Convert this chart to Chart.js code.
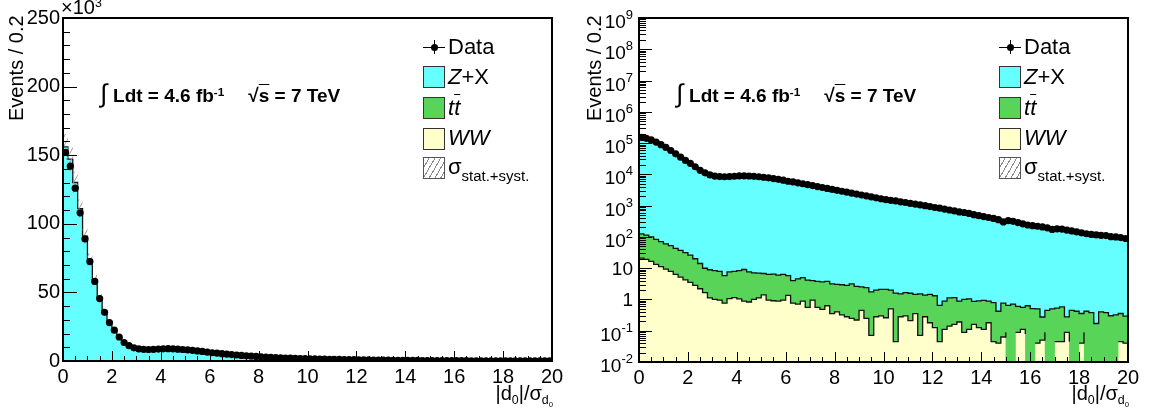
<!DOCTYPE html>
<html>
<head>
<meta charset="utf-8">
<script src="https://cdn.jsdelivr.net/npm/chart.js@4.4.0/dist/chart.umd.min.js"></script>
<style>
  body { margin: 0; background: #fff; }
  #wrap { position: relative; width: 1150px; height: 412px; overflow: hidden; font-family: "Liberation Sans", Arial, Helvetica, sans-serif; color: #000; }
  #wrap canvas { position: absolute; top: 0; }
  .txt { position: absolute; white-space: nowrap; z-index: 2; }
  .txt sub { font-size: 0.62em; vertical-align: -0.35em; line-height: 0; }
  .txt sup { font-size: 0.62em; vertical-align: 0.55em; line-height: 0; }
  .int { font-weight: normal; font-size: 1.35em; margin-right: 6px; }
  .ol { text-decoration: overline; text-decoration-thickness: 1px; }
  .box { position: absolute; width: 20px; height: 20px; border: 1px solid #333; z-index: 2; }
  .hline { position: absolute; height: 1px; background: #000; z-index: 2; }
  .vline { position: absolute; width: 1px; background: #000; z-index: 2; }
  .dot { position: absolute; width: 7px; height: 7px; border-radius: 50%; background: #000; z-index: 3; }
</style>
</head>
<body>
<div id="wrap">
  <canvas id="linPanel" width="575" height="412" style="left:0"></canvas>
  <canvas id="logPanel" width="575" height="412" style="left:575px"></canvas>
</div>
<script>
// histogram binning: |d0|/sigma(d0) from 0 to 20 in 0.2 bins
const BIN_LO = 0;
const BIN_HI = 20;
const N_BINS = 100;

// events per bin
const dataCounts = [
  152000, 142000, 126000, 108000, 89000, 72500, 58000, 45500, 35500, 28000,
  22500, 17500, 13500, 11200, 9600, 8800, 8500, 8400, 8500, 8700,
  8900, 8950, 8850, 8650, 8400, 8100, 7750, 7350, 6950, 6500,
  6030, 5750, 5370, 5010, 4680, 4370, 4070, 3800, 3550, 3310,
  3090, 2880, 2690, 2510, 2340, 2190, 2040, 1905, 1780, 1660,
  1550, 1480, 1410, 1320, 1260, 1175, 1120, 1050, 1000, 933,
  871, 832, 776, 724, 676, 631, 603, 562, 513, 479,
  447, 417, 389, 355, 302, 331, 316, 288, 263, 240,
  229, 219, 209, 195, 174, 182, 178, 166, 155, 145,
  135, 126, 120, 117, 112, 110, 102, 100, 95, 89
];
const zxCounts = [
  156000, 147000, 130000, 111000, 91000, 74000, 59000, 46000, 36000, 28200,
  22300, 17200, 13200, 11000, 9500, 8700, 8400, 8350, 8450, 8600,
  8800, 8850, 8780, 8580, 8330, 8030, 7680, 7280, 6890, 6440,
  5980, 5700, 5320, 4960, 4630, 4330, 4030, 3760, 3510, 3280,
  3060, 2850, 2660, 2490, 2320, 2170, 2020, 1890, 1765, 1645,
  1540, 1465, 1395, 1310, 1245, 1165, 1110, 1040, 990, 925,
  862, 825, 768, 717, 670, 625, 597, 556, 510, 476,
  444, 414, 386, 352, 318, 328, 313, 286, 261, 238,
  227, 217, 207, 193, 180, 180, 176, 164, 153, 143,
  133, 125, 118, 116, 110, 108, 101, 98, 94, 88
];
const ttCounts = [
  105, 95.7, 83.4, 70, 59.6, 51, 44.6, 36.4, 32, 27.4,
  22.8, 17.2, 11.9, 8.3, 7.8, 7.3, 7.0, 5.0, 6.5, 6.8,
  7.3, 8.2, 6.8, 6.1, 5.8, 5.35, 5.36, 5.55, 5.14, 5.36,
  4.4, 3.22, 3.86, 4.12, 3.61, 3.03, 3.24, 3.15, 3.17, 2.81,
  2.62, 2.63, 2.54, 2.91, 2.41, 2.06, 2.15, 1.67, 1.72, 1.79,
  1.83, 1.5, 1.54, 1.23, 1.36, 1.37, 1.1, 1.44, 1.1, 1.27,
  1.19, 0.6, 0.78, 0.98, 0.99, 0.7, 0.91, 0.94, 0.71, 0.77,
  0.82, 0.71, 0.75, 0.38, 0.7, 0.56, 0.71, 0.51, 0.45, 0.55,
  0.51, 0.46, 0.225, 0.36, 0.5, 0.48, 0.53, 0.19, 0.4, 0.42,
  0.315, 0.33, 0.38, 0.17, 0.33, 0.38, 0.23, 0.32, 0.31, 0.255
];
const wwCounts = [
  20.9, 19.1, 16.6, 13.2, 11.2, 9.3, 7.9, 6.3, 5.2, 4.2,
  3.5, 2.8, 2.2, 1.66, 1.12, 1.0, 0.95, 0.76, 1.07, 1.15,
  1.05, 0.89, 0.83, 1.0, 1.12, 1.41, 0.95, 0.91, 0.89, 0.95,
  1.35, 0.76, 0.71, 0.89, 0.56, 0.95, 0.56, 0.48, 0.63, 0.35,
  0.40, 0.32, 0.28, 0.25, 0.22, 0.45, 0.25, 0.071, 0.28, 0.30,
  0.26, 0.50, 0.045, 0.28, 0.30, 0.21, 0.35, 0.071, 0.28, 0.18,
  0.126, 0.045, 0.11, 0.14, 0.16, 0.19, 0.089, 0.11, 0.16, 0.126,
  0.11, 0.18, 0.045, 0.040, 0.063, 0.089, 0, 0.089, 0.11, 0.079,
  0, 0.040, 0.050, 0.089, 0, 0.045, 0.045, 0.089, 0.045, 0,
  0.040, 0.089, 0, 0, 0.071, 0, 0.071, 0, 0.045, 0.040
];
const mcRelUnc = 0.06; // stat.+syst. band

const FONT = '"Liberation Sans", Arial, Helvetica, sans-serif';
Chart.defaults.font.family = FONT;
Chart.defaults.color = '#000';

const COLORS = { zx: '#66ffff', tt: '#58d458', ww: '#ffffcc', line: '#111' };

const binW = (BIN_HI - BIN_LO) / N_BINS;
const edges = [];
for (let i = 0; i <= N_BINS; i++) edges.push(BIN_LO + i * binW);

// stacked sums (WW at the bottom, then ttbar, then Z+X)
const stackWW = wwCounts.slice();
const stackTT = wwCounts.map((v, i) => v + ttCounts[i]);
const stackAll = stackTT.map((v, i) => v + zxCounts[i]);

function steps(vals) {
    const pts = vals.map((v, i) => ({ x: edges[i], y: v }));
    pts.push({ x: edges[N_BINS], y: vals[N_BINS - 1] });
    return pts;
}

function hatchPattern(ctx) {
    const c = document.createElement('canvas');
    c.width = 5; c.height = 9;
    const g = c.getContext('2d');
    g.strokeStyle = '#9a9a9a';
    g.lineWidth = 1;
    g.beginPath();
    g.moveTo(0, 9); g.lineTo(5, 0);
    g.moveTo(-1, 1.8); g.lineTo(1, -1.8);
    g.moveTo(4, 10.8); g.lineTo(6, 7.2);
    g.stroke();
    return ctx.createPattern(c, 'repeat');
}

// ROOT style frame with ticks pointing into the pad
const rootAxes = {
    id: 'rootAxes',
    afterDatasetsDraw(chart) {
        const { ctx, chartArea: a, scales: { x, y } } = chart;
        const isLog = y.type === 'logarithmic';
        ctx.save();
        ctx.strokeStyle = '#000';
        ctx.lineWidth = 1;
        const seg = (x1, y1, x2, y2) => { ctx.beginPath(); ctx.moveTo(x1, y1); ctx.lineTo(x2, y2); ctx.stroke(); };

        for (let i = 0; i <= 40; i++) {
            const px = Math.round(x.getPixelForValue(i * 0.5)) + 0.5;
            seg(px, a.bottom, px, a.bottom - (i % 4 === 0 ? 10 : 5));
        }
        if (isLog) {
            for (let e = -2; e <= 9; e++) {
                for (let m = 1; m <= 9; m++) {
                    const v = m * Math.pow(10, e);
                    if (v > 1e9 * 1.0001) break;
                    const py = Math.round(y.getPixelForValue(v)) + 0.5;
                    seg(a.left, py, a.left + (m === 1 ? 13 : 7), py);
                }
            }
        } else {
            for (let i = 0; i <= 25; i++) {
                const py = Math.round(y.getPixelForValue(i * 10000)) + 0.5;
                seg(a.left, py, a.left + (i % 5 === 0 ? 14 : 7), py);
            }
        }
        ctx.lineWidth = 2;
        ctx.strokeRect(a.left, a.top, a.right - a.left, a.bottom - a.top);
        ctx.restore();
    },
    afterDraw(chart) {
        const { ctx, scales: { y }, chartArea: a } = chart;
        if (y.type !== 'logarithmic') return;
        ctx.save();
        ctx.fillStyle = '#000';
        ctx.textBaseline = 'alphabetic';
        ctx.textAlign = 'right';
        const xr = a.left - 6;
        for (let e = -2; e <= 9; e++) {
            const py = y.getPixelForValue(Math.pow(10, e));
            if (e === 0 || e === 1) {
                ctx.font = '19px ' + FONT;
                ctx.fillText(e === 0 ? '1' : '10', xr, py + 7);
            } else {
                ctx.font = '13px ' + FONT;
                const ex = String(e);
                ctx.fillText(ex, xr, py + 1);
                const w = ctx.measureText(ex).width;
                ctx.font = '19px ' + FONT;
                ctx.fillText('10', xr - w, py + 10);
            }
        }
        ctx.restore();
    }
};

function makePanel(canvasId, isLog) {
    const ctx = document.getElementById(canvasId).getContext('2d');
    const hatch = hatchPattern(ctx);
    const stepLine = (vals, fillColor, order) => ({
        data: steps(vals),
        stepped: true,
        borderColor: COLORS.line,
        borderWidth: 1.3,
        backgroundColor: fillColor,
        fill: 'start',
        pointRadius: 0,
        order: order
    });

    const yScale = isLog ? {
        type: 'logarithmic', min: 1e-2, max: 1e9,
        afterFit: s => { s.width = 64; },
        grid: { display: false, drawTicks: false },
        border: { display: false },
        ticks: { display: false }
    } : {
        type: 'linear', min: 0, max: 250000,
        afterFit: s => { s.width = 63; },
        grid: { display: false, drawTicks: false },
        border: { display: false },
        ticks: { stepSize: 50000, padding: 3, font: { size: 20 }, callback: v => v / 1000 }
    };

    return new Chart(ctx, {
        type: 'line',
        data: {
            datasets: [
                {
                    label: 'Data',
                    data: dataCounts.map((v, i) => ({ x: edges[i] + binW / 2, y: v })),
                    showLine: false,
                    pointRadius: 3.6,
                    pointBackgroundColor: '#000',
                    pointBorderWidth: 0,
                    order: 0
                },
                {
                    label: 'unc up',
                    data: steps(stackAll.map(v => v * (1 + mcRelUnc))),
                    stepped: true, borderWidth: 0, pointRadius: 0,
                    backgroundColor: hatch, fill: '+1', order: 1
                },
                {
                    label: 'unc down',
                    data: steps(stackAll.map(v => v * (1 - mcRelUnc))),
                    stepped: true, borderWidth: 0, pointRadius: 0,
                    fill: false, order: 1
                },
                stepLine(stackWW, COLORS.ww, 2),
                stepLine(stackTT, COLORS.tt, 3),
                stepLine(stackAll, COLORS.zx, 4)
            ]
        },
        options: {
            responsive: false,
            animation: false,
            events: [],
            layout: { padding: { top: 18, right: isLog ? 22 : 23, left: 0, bottom: 0 } },
            plugins: { legend: { display: false }, tooltip: { enabled: false } },
            scales: {
                x: {
                    type: 'linear', min: BIN_LO, max: BIN_HI,
                    afterFit: s => { s.height = isLog ? 50 : 51; },
                    grid: { display: false, drawTicks: false },
                    border: { display: false },
                    ticks: { stepSize: 2, padding: 4, maxRotation: 0, autoSkip: false, font: { size: 20 } }
                },
                y: yScale
            }
        },
        plugins: [rootAxes]
    });
}

function addOverlay(panelX, chart, yTitleX) {
    const wrap = document.getElementById('wrap');
    const a = chart.chartArea;
    const left = panelX + a.left, right = panelX + a.right;
    const add = (html, cls, style) => {
        const d = document.createElement('div');
        d.className = cls;
        d.innerHTML = html;
        Object.assign(d.style, style);
        wrap.appendChild(d);
        return d;
    };

    add('Events / 0.2', 'txt', { left: yTitleX + 'px', top: '121px', fontSize: '20px', lineHeight: '22px',
        transformOrigin: '0 0', transform: 'rotate(-90deg)' });
    add('|d<sub>0</sub>|/σ<sub>d<sub>0</sub></sub>', 'txt', { right: (1150 - right - 1) + 'px', top: '382px',
        fontSize: '20px', lineHeight: '22px' });
    add('<span class="int">∫</span><b>Ldt = 4.6 fb<sup>-1</sup></b><b style="margin-left:24px">√<span class="ol">s</span> = 7 TeV</b>',
        'txt', { left: (left + 37) + 'px', top: '82px', fontSize: '19px', lineHeight: '22px' });

    // legend
    const bx = right - 129;
    const rows = [
        { y: 47, html: 'Data' },
        { y: 76.5, html: '<i>Z</i>+X', fill: COLORS.zx },
        { y: 107.5, html: '<i>t<span class="ol">t</span></i>', fill: COLORS.tt },
        { y: 138, html: '<i>WW</i>', fill: COLORS.ww },
        { y: 167, html: 'σ<sub style="font-size:0.68em;vertical-align:-0.45em">stat.+syst.</sub>', hatch: true }
    ];
    rows.forEach(r => {
        add(r.html, 'txt', { left: (bx + 25) + 'px', top: (r.y - 11) + 'px', fontSize: '22px', lineHeight: '22px' });
        if (r.fill) {
            add('', 'box', { left: bx + 'px', top: (r.y - 10.5) + 'px', background: r.fill });
        } else if (r.hatch) {
            add('', 'box', { left: bx + 'px', top: (r.y - 10.5) + 'px', borderColor: '#555',
                background: 'repeating-linear-gradient(120deg, #fff 0 4px, #8a8a8a 4px 5px)' });
        } else {
            add('', 'hline', { left: bx + 'px', top: Math.round(r.y) + 'px', width: '22px' });
            add('', 'vline', { left: (bx + 11) + 'px', top: (r.y - 7) + 'px', height: '14px' });
            add('', 'dot', { left: (bx + 8) + 'px', top: (r.y - 3) + 'px' });
        }
    });
}

const linChart = makePanel('linPanel', false);
const logChart = makePanel('logPanel', true);

addOverlay(0, linChart, 5);
addOverlay(575, logChart, 583);

// x10^3 multiplier of the linear panel
(function () {
    const d = document.createElement('div');
    d.className = 'txt';
    d.innerHTML = '×10<sup>3</sup>';
    Object.assign(d.style, { left: (linChart.chartArea.left - 2) + 'px', top: '-4px', fontSize: '20px', lineHeight: '22px' });
    document.getElementById('wrap').appendChild(d);
})();
</script>
</body>
</html>
